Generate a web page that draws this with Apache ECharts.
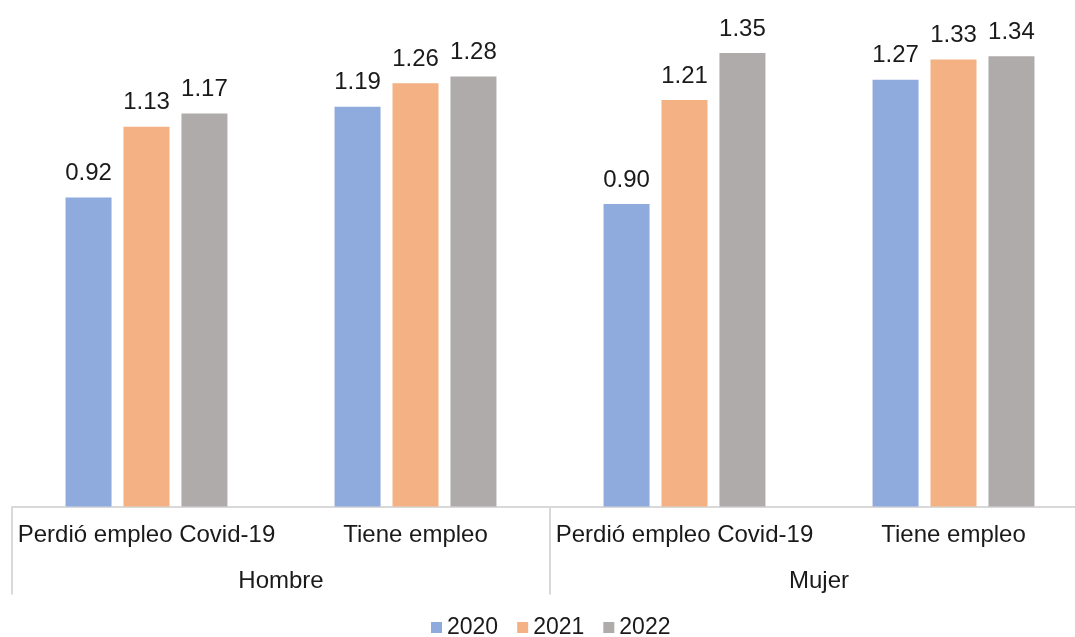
<!DOCTYPE html>
<html>
<head>
<meta charset="utf-8">
<script src="https://cdn.jsdelivr.net/npm/echarts@6/dist/echarts.min.js"></script>
<style>
  html, body { margin: 0; padding: 0; background: #ffffff; }
  #chart { width: 1075px; height: 637px; }
</style>
</head>
<body>
<div id="chart"></div>
<script>
// Employment situation (inner axis) grouped by sex (outer axis)
const categories = ['Perdió empleo Covid-19', 'Tiene empleo', 'Perdió empleo Covid-19', 'Tiene empleo'];
const groups = ['Hombre', 'Mujer'];
const seriesNames = ['2020', '2021', '2022'];
const values2020 = [0.92, 1.19, 0.90, 1.27];
const values2021 = [1.13, 1.26, 1.21, 1.33];
const values2022 = [1.17, 1.28, 1.35, 1.34];

const colors = ['#8FAADC', '#F4B183', '#AFABAB'];
const seriesValues = [values2020, values2021, values2022];
const font = 'Liberation Sans, Arial, sans-serif';
const textColor = '#1a1a1a';
const lineColor = '#D9D9D9';

const chart = echarts.init(document.getElementById('chart'), null, { renderer: 'canvas' });

chart.setOption({
  animation: false,
  color: colors,
  textStyle: { fontFamily: font },
  // plot area runs slightly past the right edge of the canvas
  grid: { left: 12, width: 1076, top: 2.5, height: 504, containLabel: false, outerBoundsMode: 'none' },
  legend: {
    data: seriesNames,
    left: 431,
    top: 616,
    padding: 0,
    icon: 'rect',
    itemWidth: 11,
    itemHeight: 11,
    itemGap: 19,
    textStyle: { fontFamily: font, fontSize: 23, color: textColor }
  },
  xAxis: [
    {
      type: 'category',
      data: categories,
      position: 'bottom',
      axisLine: { show: true, lineStyle: { color: lineColor, width: 2 } },
      axisTick: { show: false },
      axisLabel: { interval: 0, margin: 17, fontFamily: font, fontSize: 24, color: textColor }
    },
    {
      type: 'category',
      data: groups,
      position: 'bottom',
      boundaryGap: true,
      axisLine: { show: false },
      axisTick: { show: true, interval: 0, length: 88, lineStyle: { color: lineColor, width: 2 } },
      axisLabel: { interval: 0, margin: 63, fontFamily: font, fontSize: 24, color: textColor }
    }
  ],
  yAxis: {
    type: 'value',
    min: 0,
    max: 1.5,
    show: false,
    splitLine: { show: false }
  },
  series: seriesNames.map((name, i) => ({
    name: name,
    type: 'bar',
    xAxisIndex: 0,
    data: seriesValues[i],
    barWidth: 46,
    barGap: '26%',
    itemStyle: { color: colors[i] },
    label: {
      show: true,
      position: 'top',
      distance: 12,
      formatter: p => p.value.toFixed(2),
      fontFamily: font,
      fontSize: 24,
      color: textColor
    }
  }))
});
</script>
</body>
</html>
